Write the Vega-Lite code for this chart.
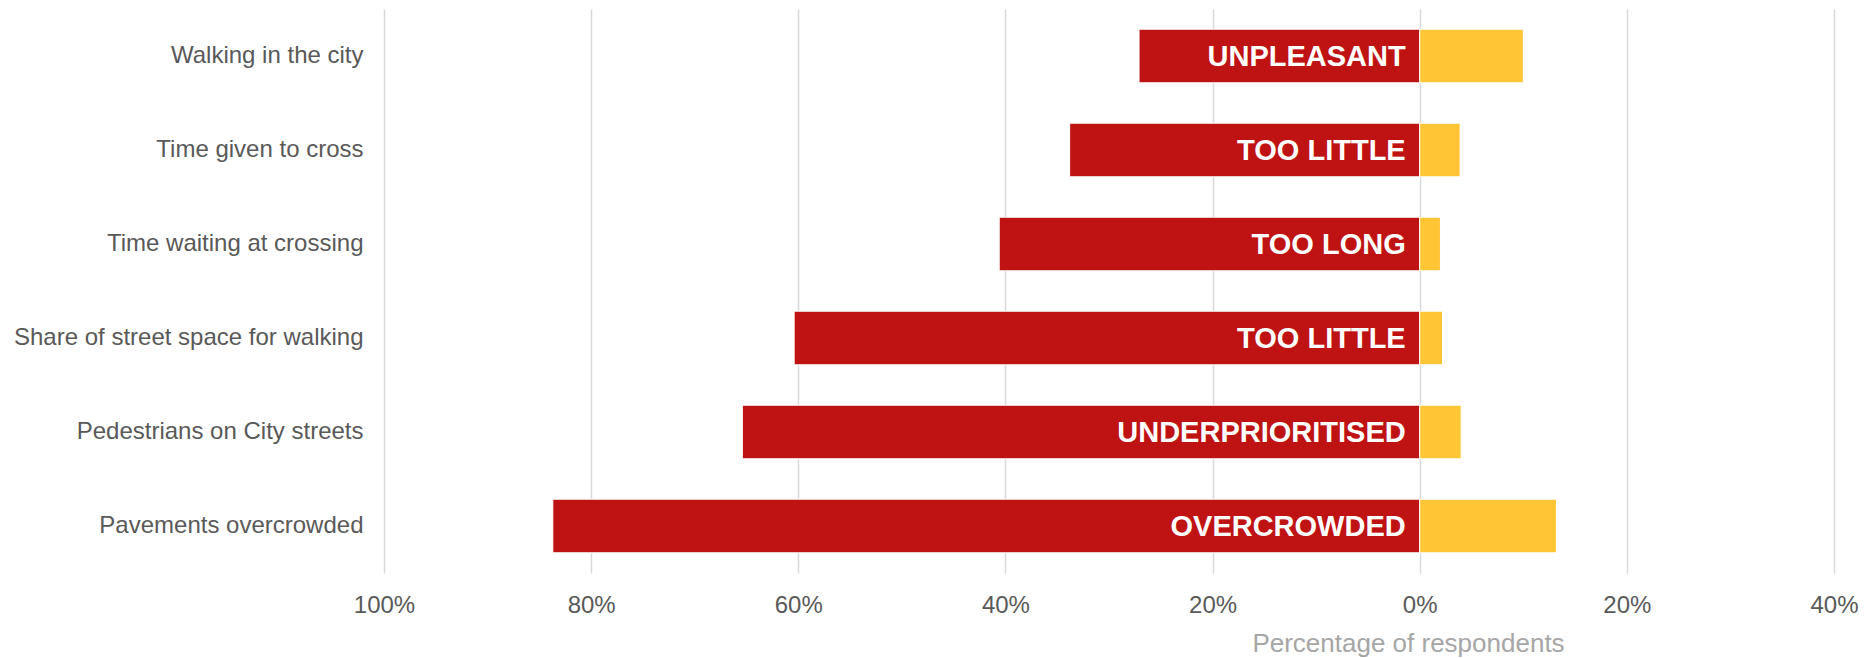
{
  "$schema": "https://vega.github.io/schema/vega-lite/v6.json",
  "autosize": {"type": "none"},
  "width": 1450,
  "height": 564,
  "padding": {"left": 384, "top": 9, "right": 41, "bottom": 85},
  "background": "white",
  "config": {
    "view": {"stroke": null},
    "font": "Liberation Sans"
  },
  "data": {
    "values": [
      {"item": "Walking in the city", "type": "negative", "value": -27.1, "label": "UNPLEASANT"},
      {"item": "Walking in the city", "type": "positive", "value": 10.0, "label": ""},
      {"item": "Time given to cross", "type": "negative", "value": -33.8, "label": "TOO LITTLE"},
      {"item": "Time given to cross", "type": "positive", "value": 3.9, "label": ""},
      {"item": "Time waiting at crossing", "type": "negative", "value": -40.6, "label": "TOO LONG"},
      {"item": "Time waiting at crossing", "type": "positive", "value": 2.0, "label": ""},
      {"item": "Share of street space for walking", "type": "negative", "value": -60.4, "label": "TOO LITTLE"},
      {"item": "Share of street space for walking", "type": "positive", "value": 2.2, "label": ""},
      {"item": "Pedestrians on City streets", "type": "negative", "value": -65.4, "label": "UNDERPRIORITISED"},
      {"item": "Pedestrians on City streets", "type": "positive", "value": 4.0, "label": ""},
      {"item": "Pavements overcrowded", "type": "negative", "value": -83.7, "label": "OVERCROWDED"},
      {"item": "Pavements overcrowded", "type": "positive", "value": 13.2, "label": ""}
    ]
  },
  "encoding": {
    "y": {
      "field": "item",
      "type": "nominal",
      "sort": null,
      "scale": {"paddingInner": 0.43, "paddingOuter": 0.215},
      "axis": {
        "title": null,
        "domain": false,
        "ticks": false,
        "grid": false,
        "labelFontSize": 24,
        "labelColor": "#595959",
        "labelPadding": 21,
        "labelLimit": 400
      }
    }
  },
  "layer": [
    {
      "mark": {"type": "bar", "stroke": "white", "strokeWidth": 1},
      "encoding": {
        "x": {
          "field": "value",
          "type": "quantitative",
          "scale": {"domain": [-100, 40], "nice": false, "zero": false},
          "axis": {
            "values": [-100, -80, -60, -40, -20, 0, 20, 40],
            "labelExpr": "abs(datum.value) + '%'",
            "labelFlush": false,
            "labelOverlap": false,
            "domain": false,
            "ticks": false,
            "grid": true,
            "gridColor": "#d9d9d9",
            "gridWidth": 1.5,
            "labelFontSize": 24,
            "labelColor": "#595959",
            "labelPadding": 20,
            "title": "Percentage of respondents",
            "titleFontSize": 26,
            "titleFontWeight": "normal",
            "titleColor": "#a6a6a6",
            "titleX": 1024,
            "titleY": 70,
            "titleAlign": "center",
            "titleBaseline": "middle"
          }
        },
        "color": {
          "field": "type",
          "type": "nominal",
          "scale": {"domain": ["negative", "positive"], "range": ["#BF1313", "#FFC535"]},
          "legend": null
        }
      }
    },
    {
      "transform": [{"filter": "datum.type == 'negative'"}],
      "mark": {
        "type": "text",
        "align": "right",
        "baseline": "middle",
        "dx": -14,
        "dy": 1,
        "fontSize": 29,
        "fontWeight": "bold",
        "color": "white"
      },
      "encoding": {
        "x": {"datum": 0, "type": "quantitative"},
        "text": {"field": "label"}
      }
    }
  ]
}
